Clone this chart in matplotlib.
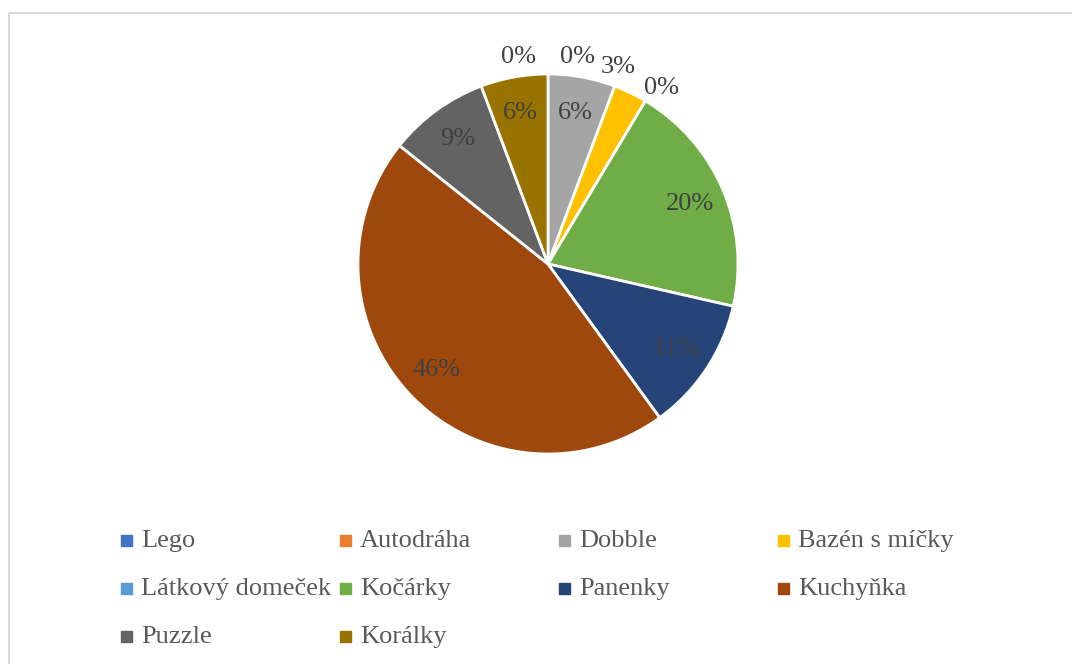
import matplotlib.pyplot as plt
import numpy as np
from matplotlib.patches import Rectangle

plt.rcParams['font.family'] = ['Liberation Serif', 'DejaVu Serif']

# data
categories = ['Lego', 'Autodráha', 'Dobble', 'Bazén s míčky', 'Látkový domeček',
              'Kočárky', 'Panenky', 'Kuchyňka', 'Puzzle', 'Korálky']
counts = [0, 0, 2, 1, 0, 7, 4, 16, 3, 2]
colors = ['#4472C4', '#ED7D31', '#A5A5A5', '#FFC000', '#5B9BD5',
          '#70AD47', '#264478', '#9E480E', '#636363', '#997300']

W, H = 1072, 664
fig = plt.figure(figsize=(W / 100, H / 100), dpi=100)

# chart border
fig.patches.append(Rectangle((8.5 / W, 1 - 12.5 / H), 2, -2, transform=fig.transFigure,
                             fill=False, edgecolor='#d9d9d9', lw=1.5))

# pie axes: centre (548, 264) px, radius 190 px
cx, cy, r = 548, 264, 190
ax = fig.add_axes([(cx - r) / W, 1 - (cy + r) / H, 2 * r / W, 2 * r / H])
wedges, _ = ax.pie(counts, colors=colors, startangle=90, counterclock=False,
                   radius=1, wedgeprops=dict(edgecolor='white', linewidth=2))
ax.set_xlim(-1, 1)
ax.set_ylim(-1, 1)
ax.set_aspect('auto')
ax.axis('off')

total = sum(counts)
txt_col = '#404040'
fs = 19
# small slices get labels outside, nudged so they do not overlap
nudge = {'Lego': -8, 'Autodráha': 8, 'Bazén s míčky': -6, 'Látkový domeček': 2}
for w, name, v in zip(wedges, categories, counts):
    pct = v / total * 100
    mid = np.deg2rad((w.theta1 + w.theta2) / 2)
    if pct >= 5:
        rr = 0.81
    else:
        rr = 1.1
        mid = mid - np.deg2rad(nudge.get(name, 0))
    ax.text(rr * np.cos(mid), rr * np.sin(mid), f'{pct:.0f}%', ha='center', va='center',
            fontsize=fs, color=txt_col, clip_on=False)

# legend laid out like the original, 4 equal columns
for i, (name, c) in enumerate(zip(categories, colors)):
    col, row = i % 4, i // 4
    mx = 121 + col * 219
    my = 541 + row * 48
    fig.patches.append(Rectangle((mx / W, 1 - (my + 5) / H), 11 / W, 11 / H,
                                 transform=fig.transFigure, color=c))
    fig.text((mx + 20) / W, 1 - my / H, name, ha='left', va='center',
             fontsize=fs, color='#595959')

fig.savefig('out.png', dpi=100)
